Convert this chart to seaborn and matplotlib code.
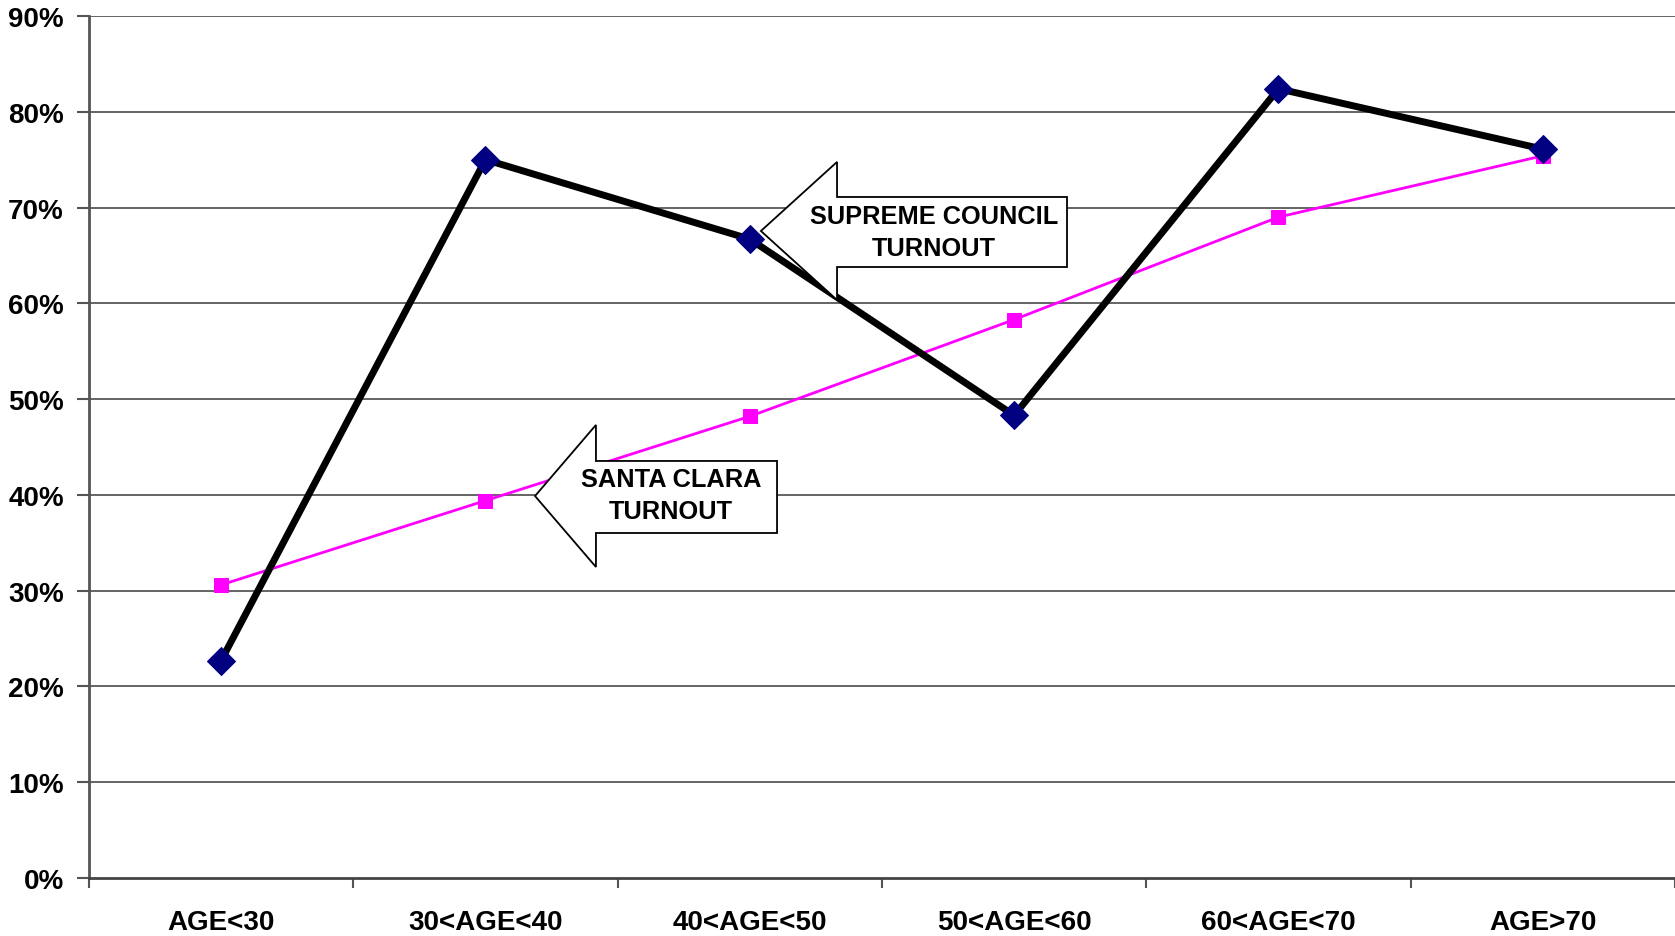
import numpy as np
import pandas as pd
import matplotlib
matplotlib.use('Agg')
import matplotlib.pyplot as plt
import seaborn as sns
from matplotlib.patches import Polygon
from matplotlib.ticker import PercentFormatter

categories = ['AGE<30', '30<AGE<40', '40<AGE<50', '50<AGE<60', '60<AGE<70', 'AGE>70']
supreme_council = [0.227, 0.750, 0.667, 0.483, 0.824, 0.761]
santa_clara = [0.306, 0.394, 0.482, 0.583, 0.690, 0.754]

sns.set_style('white')
plt.rcParams['font.family'] = ['Liberation Sans', 'DejaVu Sans']
plt.rcParams['font.weight'] = 'bold'
plt.rcParams['text.color'] = 'black'
plt.rcParams['xtick.labelcolor'] = 'black'
plt.rcParams['ytick.labelcolor'] = 'black'

df = pd.DataFrame({'age': categories, 'supreme': supreme_council, 'santa': santa_clara})
df['pos'] = np.arange(len(categories))

fig = plt.figure(figsize=(16.75, 9.37), dpi=100)
ax = fig.add_axes([0.0531, 0.0619, 0.9469, 0.920])

# gridlines behind the lines
for v in np.arange(0.1, 0.95, 0.1):
    ax.axhline(v, color='#3a3a3a', lw=1.1, zorder=1)

sns.lineplot(data=df, x='pos', y='santa', ax=ax, color='#ff00ff', lw=2,
             marker='s', markersize=10, markeredgecolor='#ff00ff', zorder=3)
sns.lineplot(data=df, x='pos', y='supreme', ax=ax, color='black', lw=5,
             marker='D', markersize=14, markerfacecolor='#000080',
             markeredgecolor='#000080', zorder=4)

ax.set_xlim(-0.5, 5.5)
ax.set_ylim(0, 0.9)
ax.set_xlabel('')
ax.set_ylabel('')

ax.set_yticks(np.arange(0, 0.91, 0.1))
ax.yaxis.set_major_formatter(PercentFormatter(1.0, decimals=0))
ax.set_xticks(df['pos'])
ax.set_xticklabels(categories)
ax.set_xticks(np.arange(-0.5, 5.6, 1), minor=True)
ax.tick_params(axis='x', which='major', length=0, pad=22, labelsize=20)
ax.tick_params(axis='x', which='minor', length=7, width=1.5, color='#555555', direction='out', bottom=True)
ax.tick_params(axis='y', length=9, width=1.5, color='#555555', direction='out', left=True, pad=9, labelsize=20)
for lab in ax.get_xticklabels() + ax.get_yticklabels():
    lab.set_fontweight('bold')

ax.spines['right'].set_visible(False)
ax.spines['top'].set_visible(False)
ax.spines['left'].set_color('#555555')
ax.spines['left'].set_linewidth(2)
ax.spines['bottom'].set_color('#444444')
ax.spines['bottom'].set_linewidth(2)


def callout(tip_x, tip_y, head_x, head_top, head_bot, box_top, box_bot, box_right):
    pts = [(tip_x, tip_y), (head_x, head_top), (head_x, box_top), (box_right, box_top),
           (box_right, box_bot), (head_x, box_bot), (head_x, head_bot)]
    ax.add_patch(Polygon(pts, closed=True, facecolor='white', edgecolor='black',
                         lw=1.3, zorder=5, clip_on=False))


callout(2.042, 0.6755, 2.330, 0.7476, 0.6035, 0.7110, 0.6379, 3.200)
ax.text(2.697, 0.6745, 'SUPREME COUNCIL\nTURNOUT', ha='center', va='center',
        fontsize=18.3, fontweight='bold', linespacing=1.45, zorder=6)

callout(1.1875, 0.3988, 1.418, 0.4730, 0.3247, 0.4354, 0.3602, 2.103)
ax.text(1.702, 0.400, 'SANTA CLARA\nTURNOUT', ha='center', va='center',
        fontsize=18.3, fontweight='bold', linespacing=1.45, zorder=6)

fig.savefig('out.png', dpi=100)
